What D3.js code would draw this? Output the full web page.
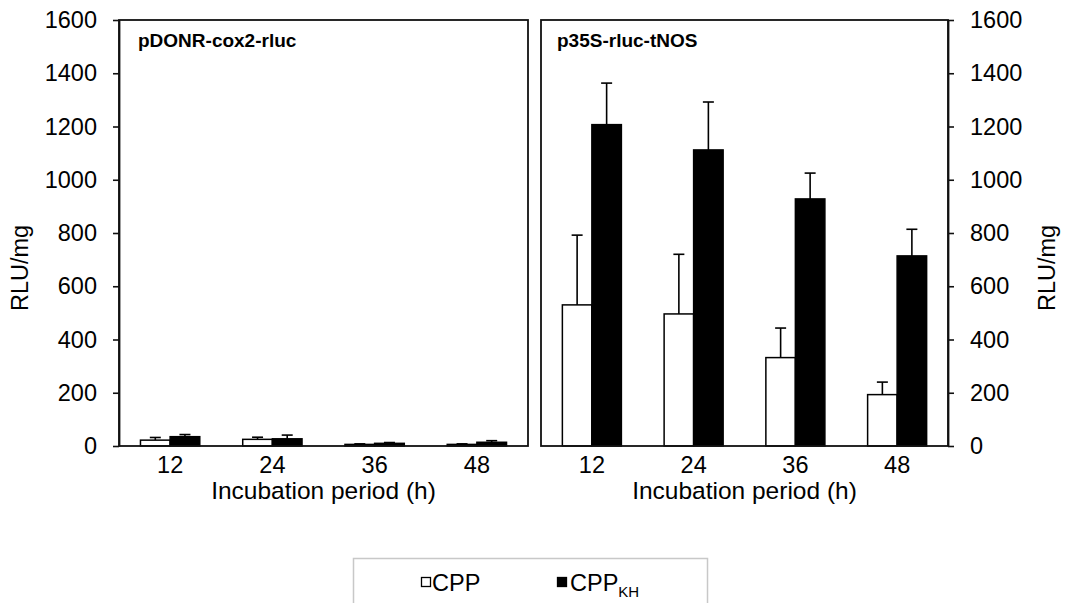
<!DOCTYPE html>
<html>
<head>
<meta charset="utf-8">
<script src="https://cdn.jsdelivr.net/npm/d3@7"></script>
<style>
  body { margin: 0; background: #fff; }
  svg text { font-family: "Liberation Sans", Arial, sans-serif; fill: #000; }
</style>
</head>
<body>
<div class="canva"></div>
<script>
// incubation times (h)
const hours = ["12", "24", "36", "48"];
const yTicks = [0, 200, 400, 600, 800, 1000, 1200, 1400, 1600];
const seriesNames = ["CPP", "CPP_KH"];

// pDONR-cox2-rluc panel
const coxCPP = [22, 25, 6, 6];
const coxCPPErr = [10, 8, 2, 2];
const coxKH = [35, 27, 10, 14];
const coxKHErr = [8, 14, 3, 6];

// p35S-rluc-tNOS panel
const nosCPP = [530, 496, 332, 193];
const nosCPPErr = [262, 224, 111, 47];
const nosKH = [1207, 1112, 928, 714];
const nosKHErr = [156, 180, 97, 100];

const svg = d3.select(".canva").append("svg")
  .attr("width", 1067)
  .attr("height", 603);

const plotTop = 20, plotBottom = 446;
const y = d3.scaleLinear().domain([0, 1600]).range([plotBottom, plotTop]);
const fontSize = "23.5px";

const panels = [
  {title: "pDONR-cox2-rluc", x0: 119, x1: 528, cpp: coxCPP, cppErr: coxCPPErr, kh: coxKH, khErr: coxKHErr, side: "left"},
  {title: "p35S-rluc-tNOS", x0: 541, x1: 948, cpp: nosCPP, cppErr: nosCPPErr, kh: nosKH, khErr: nosKHErr, side: "right"}
];

panels.forEach(p => {
  const g = svg.append("g");
  const x0 = d3.scaleBand().domain(hours).range([p.x0, p.x1]);
  const x1 = d3.scaleBand().domain(seriesNames)
    .range([x0.bandwidth() * 0.21, x0.bandwidth() * 0.79]);

  // rows for bars
  const rows = [];
  hours.forEach((h, i) => {
    rows.push({h: h, s: "CPP", v: p.cpp[i], e: p.cppErr[i]});
    rows.push({h: h, s: "CPP_KH", v: p.kh[i], e: p.khErr[i]});
  });

  // error bars (upper only), drawn behind bars
  const err = g.append("g");
  rows.forEach(d => {
    const cx = x0(d.h) + x1(d.s) + x1.bandwidth() / 2;
    err.append("line")
      .attr("x1", cx).attr("x2", cx)
      .attr("y1", y(d.v)).attr("y2", y(d.v + d.e))
      .attr("stroke", "#000").attr("stroke-width", 1.6);
    err.append("line")
      .attr("x1", cx - 5.5).attr("x2", cx + 5.5)
      .attr("y1", y(d.v + d.e)).attr("y2", y(d.v + d.e))
      .attr("stroke", "#000").attr("stroke-width", 1.6);
  });

  g.selectAll("rect.bar")
    .data(rows)
    .enter().append("rect")
    .attr("class", "bar")
    .attr("x", d => x0(d.h) + x1(d.s))
    .attr("y", d => y(d.v))
    .attr("width", x1.bandwidth())
    .attr("height", d => plotBottom - y(d.v))
    .attr("fill", d => d.s === "CPP" ? "#fff" : "#000")
    .attr("stroke", "#000")
    .attr("stroke-width", 1.5);

  // frame
  g.append("rect")
    .attr("x", p.x0).attr("y", plotTop)
    .attr("width", p.x1 - p.x0).attr("height", plotBottom - plotTop)
    .attr("fill", "none")
    .attr("stroke", "#111")
    .attr("stroke-width", 1.8);

  // y axis
  const axisX = p.side === "left" ? p.x0 : p.x1;
  const axis = p.side === "left" ? d3.axisLeft(y) : d3.axisRight(y);
  const ag = g.append("g")
    .attr("transform", `translate(${axisX},0)`)
    .call(axis.tickValues(yTicks).tickFormat(d3.format("d"))
      .tickSize(6).tickPadding(16).tickSizeOuter(0));
  ag.select(".domain").attr("stroke", "#111").attr("stroke-width", 1.8);
  ag.selectAll(".tick line").attr("stroke", "#111").attr("stroke-width", 1.6);
  ag.selectAll(".tick text").style("font-size", fontSize)
    .attr("font-family", "Liberation Sans, Arial, sans-serif");

  // x tick labels
  const xg = g.append("g")
    .attr("transform", `translate(0,${plotBottom})`)
    .call(d3.axisBottom(x0).tickSize(0).tickPadding(10));
  xg.select(".domain").remove();
  xg.selectAll(".tick text").style("font-size", fontSize)
    .attr("font-family", "Liberation Sans, Arial, sans-serif");

  // x title
  g.append("text")
    .attr("x", (p.x0 + p.x1) / 2)
    .attr("y", 499)
    .attr("text-anchor", "middle")
    .style("font-size", "24.5px")
    .text("Incubation period (h)");

  // panel title
  g.append("text")
    .attr("x", p.x0 + (p.side === "left" ? 19 : 16))
    .attr("y", 47)
    .style("font-size", "19px")
    .style("font-weight", "bold")
    .text(p.title);

  // y title
  const yx = p.side === "left" ? 28 : 1055;
  g.append("text")
    .attr("transform", `translate(${yx},268) rotate(-90)`)
    .attr("text-anchor", "middle")
    .style("font-size", fontSize)
    .text("RLU/mg");
});

// legend
const leg = svg.append("g");
leg.append("rect")
  .attr("x", 353.5).attr("y", 558.5)
  .attr("width", 354).attr("height", 60)
  .attr("fill", "#fff")
  .attr("stroke", "#c8c8c8")
  .attr("stroke-width", 1.5);

leg.append("rect")
  .attr("x", 421.5).attr("y", 577.5).attr("width", 9).attr("height", 9)
  .attr("fill", "#fff").attr("stroke", "#000").attr("stroke-width", 1.3);
leg.append("text").attr("x", 432).attr("y", 591)
  .style("font-size", fontSize).text("CPP");

leg.append("rect")
  .attr("x", 557.5).attr("y", 577.5).attr("width", 9).attr("height", 9)
  .attr("fill", "#000").attr("stroke", "#000").attr("stroke-width", 1.3);
const kh = leg.append("text").attr("x", 570).attr("y", 591)
  .style("font-size", fontSize);
kh.append("tspan").text("CPP");
kh.append("tspan").attr("dy", 6).style("font-size", "15px").text("KH");
</script>
</body>
</html>
